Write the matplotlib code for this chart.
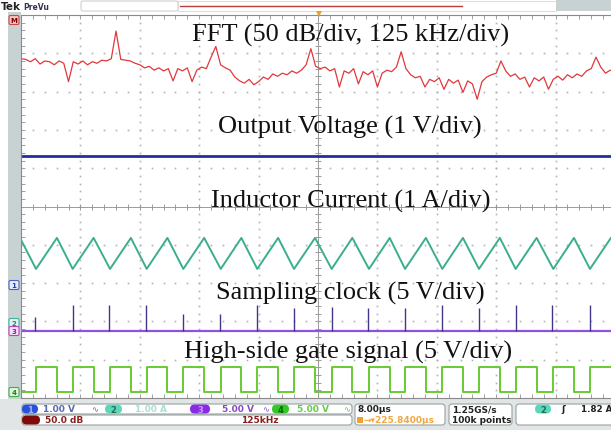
import numpy as np
import matplotlib.pyplot as plt
from matplotlib.patches import FancyBboxPatch, Rectangle
from matplotlib.ticker import MultipleLocator

W, H = 611, 431

# FFT magnitude, 0..1250 kHz, 10 kHz steps (dB)
fft_khz = np.arange(0, 1260, 10)
fft_db = [-57, -58, -61, -57, -64, -60, -61, -65, -60, -63,
          -87, -61, -64, -60, -65, -61, -63, -59, -60, -57,
          -21, -58, -59, -60, -63, -65, -69, -67, -72, -69,
          -73, -70, -86, -70, -73, -69, -87, -72, -68, -70,
          -55, -41, -65, -69, -72, -81, -86, -89, -84, -91,
          -87, -81, -84, -77, -80, -76, -78, -73, -76, -72,
          -65, -44, -67, -70, -68, -73, -70, -94, -73, -76,
          -70, -90, -74, -78, -73, -94, -76, -72, -74, -68,
          -48, -70, -78, -82, -80, -94, -84, -87, -82, -97,
          -84, -89, -85, -101, -86, -90, -110, -87, -81, -78,
          -76, -60, -73, -80, -77, -84, -81, -94, -82, -86,
          -81, -97, -84, -80, -85, -78, -82, -77, -80, -73,
          -70, -55, -68, -76, -72, -74]

# output voltage (V)
vout = 3.36

# gate edges (us)
gate_rise = [2.02, 6.96, 11.99, 16.93, 21.86, 26.90, 31.82, 36.77,
             41.84, 46.87, 51.72, 56.74, 61.68, 66.62, 71.69, 76.63]
gate_fall = [4.84, 9.78, 14.80, 19.72, 24.67, 29.68, 34.63, 39.60,
             44.62, 49.66, 54.53, 59.52, 64.49, 69.44, 74.47]
gate_high = 3.25

# inductor current levels (A)
il_valley = 1.41
il_peak = 2.22
il_start = 2.17

# sampling clock spikes
clk_t = [1.89, 6.96, 11.90, 16.80, 21.78, 26.80, 31.80, 36.77,
         41.84, 46.78, 51.72, 56.66, 61.68, 66.62, 71.56, 76.63]
clk_v = [1.8, 3.4, 3.3, 3.4, 2.2, 2.2, 3.3, 2.9,
         3.1, 2.9, 2.9, 3.3, 3.0, 3.3, 3.3, 3.3]

# channel scales / offsets (divisions)
FFT_REF, FFT_DIV = 5.0, 50.0
CH1_OFF, CH1_DIV = -2.05, 1.0
CH2_OFF, CH2_DIV = -3.04, 1.0
CH3_OFF, CH3_DIV = -3.24, 5.0
CH4_OFF, CH4_DIV = -4.84, 5.0

fig = plt.figure(figsize=(W / 100, H / 100), dpi=100)

bg = fig.add_axes([0, 0, 1, 1], zorder=0)
bg.set_xlim(0, W)
bg.set_ylim(H, 0)
bg.axis('off')
bg.add_patch(Rectangle((0, 400), W, 31, fc='#e1e5e5', ec='none'))
bg.add_patch(Rectangle((8, 13), 13, 387, fc='#c8d2d2', ec='none'))

# graticule: left 21px, right 615px, top 16px, bottom 399px
ax = fig.add_axes([21 / W, 1 - 399 / H, 594 / W, 383 / H], zorder=1)
ax.set_xlim(0, 80)
ax.set_ylim(-5, 5)
ax.set_xticks([]); ax.set_yticks([])
ax.xaxis.set_minor_locator(MultipleLocator(1.6))
ax.yaxis.set_minor_locator(MultipleLocator(0.2))
ax.tick_params(which='minor', direction='in', length=3, color='#909090',
               top=True, right=True, labelbottom=False, labelleft=False)
for s in ax.spines.values():
    s.set_color('#8a8a8a')
    s.set_linewidth(0.8)

gc = '#b2b2b2'
minor_x = np.arange(0, 80.01, 1.6)
minor_y = np.arange(-5, 5.01, 0.2)
for gy in [-4, -3, -2, -1, 1, 2, 3, 4]:
    ax.plot(minor_x, np.full_like(minor_x, gy), ls='none', marker='s', ms=1.2,
            mew=0, color=gc)
for gx in [8, 16, 24, 32, 48, 56, 64, 72]:
    ax.plot(np.full_like(minor_y, gx), minor_y, ls='none', marker='s', ms=1.2,
            mew=0, color=gc)
ax.axhline(0, color='#9a9a9a', lw=0.7)
ax.axvline(40, color='#9a9a9a', lw=0.7)
ax.plot(minor_x, np.zeros_like(minor_x), ls='none', marker='|', ms=4, mew=0.7,
        color='#9a9a9a')
ax.plot(np.full_like(minor_y, 40), minor_y, ls='none', marker='_', ms=5, mew=0.7,
        color='#9a9a9a')

# FFT
fx = fft_khz * 80 / 1250
fy = FFT_REF + np.array(fft_db) / FFT_DIV
ax.plot(fx, fy, color='#e0383c', lw=0.9)

# output voltage
ax.plot([0, 80], [CH1_OFF + vout / CH1_DIV] * 2, color='#22309a', lw=2)

# inductor current
il_t, il_a = [0], [il_start]
for i, r in enumerate(gate_rise):
    il_t.append(r); il_a.append(il_valley)
    if i < len(gate_fall):
        il_t.append(gate_fall[i]); il_a.append(il_peak)
il_t += [79.45, 80]; il_a += [il_peak, 2.2]
ax.plot(il_t, CH2_OFF + np.array(il_a) / CH2_DIV, color='#3aae8e', lw=1.4)

# sampling clock
ax.plot([0, 80], [CH3_OFF, CH3_OFF], color='#9050e0', lw=1.6)
ax.vlines(clk_t, CH3_OFF, CH3_OFF + np.array(clk_v) / CH3_DIV,
          color='#40358a', lw=1.0)

# gate signal
gx_, gy_ = [0], [0]
for i, r in enumerate(gate_rise):
    gx_ += [r, r]; gy_ += [0, gate_high]
    if i < len(gate_fall):
        f = gate_fall[i]
        gx_ += [f, f]; gy_ += [gate_high, 0]
gx_.append(80); gy_.append(gate_high)
ax.plot(gx_, CH4_OFF + np.array(gy_) / CH4_DIV, color='#66cc33', lw=1.4)

# overlay
top = fig.add_axes([0, 0, 1, 1], zorder=2)
top.set_xlim(0, W)
top.set_ylim(H, 0)
top.axis('off')
top.patch.set_alpha(0)

serif = dict(family='Liberation Serif', fontsize=19, ha='center', va='baseline',
             color='#111111')
top.text(351, 42, 'FFT (50 dB/div, 125 kHz/div)', **serif)
top.text(350, 134, 'Output Voltage (1 V/div)', **serif)
top.text(351, 208, 'Inductor Current (1 A/div)', **serif)
top.text(350, 300, 'Sampling clock (5 V/div)', **serif)
top.text(348, 359, 'High-side gate signal (5 V/div)', **serif)

# top bar
top.text(1, 7, 'Tek', fontsize=7.5, weight='bold', va='center', color='#222222')
top.text(23, 7, 'PreVu', fontsize=5.5, weight='bold', va='center', color='#333355')
top.add_patch(FancyBboxPatch((81, 2), 97, 10, boxstyle='round,pad=0,rounding_size=2',
                             fc='white', ec='#cfcfcf', lw=0.8))
top.add_patch(Rectangle((178, 2), 378, 10, fc='white', ec='#d6d6d6', lw=0.6))
top.plot([180, 462], [6.5, 6.5], color='#b84040', lw=1.0)
top.add_patch(Rectangle((556, 1), 55, 11, fc='#c8d2d2', ec='none'))
top.plot(319, 15, marker='v', ms=4, color='#f0a020', mew=0)


def tab(y, label, ec, fc, tc):
    top.add_patch(FancyBboxPatch((9, y - 4.5), 10, 9,
                                 boxstyle='round,pad=0,rounding_size=1.5',
                                 fc=fc, ec=ec, lw=0.8))
    top.text(14, y + 0.3, label, fontsize=5, ha='center', va='center', color=tc,
             weight='bold')


tab(21, 'M', '#c84848', '#f2c4c4', '#7a0000')
tab(286, '1', '#4a62c0', '#e6ebf8', '#2040a0')
tab(324, '2', '#40b0a0', '#e0f4ef', '#208070')
tab(332, '3', '#c040c0', '#f6e2f6', '#8020a0')
tab(393, '4', '#40b040', '#e2f4e0', '#208020')

# status bar


def box(x0, y0, x1, y1, r=3):
    top.add_patch(FancyBboxPatch((x0, y0), x1 - x0, y1 - y0,
                                 boxstyle=f'round,pad=0,rounding_size={r}',
                                 fc='white', ec='#98a2a2', lw=0.8))


def oval(x0, x1, yc, fc, label='', tc='white'):
    top.add_patch(FancyBboxPatch((x0, yc - 4.5), x1 - x0, 9,
                                 boxstyle='round,pad=0,rounding_size=4.5',
                                 fc=fc, ec='none'))
    if label:
        top.text((x0 + x1) / 2, yc + 0.3, label, fontsize=6, ha='center',
                 va='center', color=tc, weight='bold')


st = dict(fontsize=6.5, va='center', weight='bold')
box(22, 405, 352, 415)
box(22, 416, 352, 426)
box(355, 405, 445, 426)
box(449, 405, 512, 426)
box(516, 405, 640, 426)

r1, r2 = 410, 421
oval(22, 38, r1, '#2a52d8', '1', '#9fb6ff')
top.text(43, r1, '1.00 V', color='#5a68b0', **st)
top.text(91, r1, '∿', color='#6070b0', fontsize=6, va='center')
oval(105, 122, r1, '#5cd8b8', '2', '#1c6c5c')
top.text(135, r1, '1.00 A', color='#a8e0d4', **st)
oval(190, 210, r1, '#8a2ae8', '3', '#c8a0ff')
top.text(222, r1, '5.00 V', color='#8a48c8', **st)
top.text(262, r1, '∿', color='#8a48c8', fontsize=6, va='center')
oval(272, 289, r1, '#34c824', '4', '#0c5c08')
top.text(297, r1, '5.00 V', color='#66cc44', **st)
top.text(343, r1, '∿', color='#66cc44', fontsize=6, va='center')
oval(22, 40, r2, '#7e0a0a')
top.text(45, r2, '50.0 dB', color='#8a2020', **st)
top.text(241, r2, '125kHz', color='#8a2020', **st)

top.text(357, r1, '8.00µs', color='#222222', **st)
top.add_patch(Rectangle((357, r2 - 3), 6, 6, fc='#f0a030', ec='none'))
top.text(364, r2, '→▾225.8400µs', color='#f0a840', **st)
top.text(452, r1, '1.25GS/s', color='#222222', **st)
top.text(452, r2, '100k points', color='#222222', **st)
oval(535, 551, r1, '#5cd8b8', '2', '#1c6c5c')
top.text(561, r1, 'ʃ', color='#222222', **st)
top.text(581, r1, '1.82 A', color='#222222', fontsize=6.3, va='center',
         weight='bold')

fig.savefig('out.png', dpi=100)
